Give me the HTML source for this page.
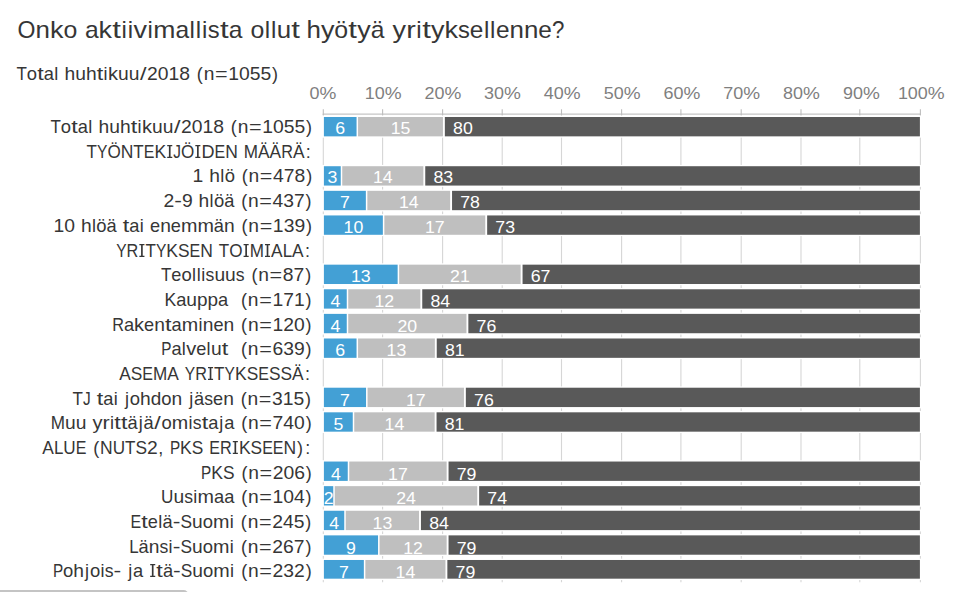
<!DOCTYPE html><html><head><meta charset="utf-8"><style>
html,body{margin:0;padding:0;background:#fff;overflow:hidden;width:958px;height:592px}
svg{display:block}text{font-family:"Liberation Sans", sans-serif;white-space:pre}
</style></head><body>
<svg width="958" height="592" viewBox="0 0 958 592">
<line x1="323.30" y1="114" x2="323.30" y2="582.3" stroke="#d6d6d6" stroke-width="1.1"/>
<line x1="382.60" y1="114" x2="382.60" y2="582.3" stroke="#d6d6d6" stroke-width="1.1"/>
<line x1="442.60" y1="114" x2="442.60" y2="582.3" stroke="#d6d6d6" stroke-width="1.1"/>
<line x1="502.20" y1="114" x2="502.20" y2="582.3" stroke="#d6d6d6" stroke-width="1.1"/>
<line x1="561.50" y1="114" x2="561.50" y2="582.3" stroke="#d6d6d6" stroke-width="1.1"/>
<line x1="621.60" y1="114" x2="621.60" y2="582.3" stroke="#d6d6d6" stroke-width="1.1"/>
<line x1="680.90" y1="114" x2="680.90" y2="582.3" stroke="#d6d6d6" stroke-width="1.1"/>
<line x1="741.20" y1="114" x2="741.20" y2="582.3" stroke="#d6d6d6" stroke-width="1.1"/>
<line x1="801.00" y1="114" x2="801.00" y2="582.3" stroke="#d6d6d6" stroke-width="1.1"/>
<line x1="859.80" y1="114" x2="859.80" y2="582.3" stroke="#d6d6d6" stroke-width="1.1"/>
<line x1="920.40" y1="114" x2="920.40" y2="582.3" stroke="#d6d6d6" stroke-width="1.1"/>
<line x1="322.80" y1="114.2" x2="920.90" y2="114.2" stroke="#c6c6c6" stroke-width="1.3"/>
<line x1="323.30" y1="109.3" x2="323.30" y2="115" stroke="#bdbdbd" stroke-width="1.1"/>
<line x1="382.60" y1="109.3" x2="382.60" y2="115" stroke="#bdbdbd" stroke-width="1.1"/>
<line x1="442.60" y1="109.3" x2="442.60" y2="115" stroke="#bdbdbd" stroke-width="1.1"/>
<line x1="502.20" y1="109.3" x2="502.20" y2="115" stroke="#bdbdbd" stroke-width="1.1"/>
<line x1="561.50" y1="109.3" x2="561.50" y2="115" stroke="#bdbdbd" stroke-width="1.1"/>
<line x1="621.60" y1="109.3" x2="621.60" y2="115" stroke="#bdbdbd" stroke-width="1.1"/>
<line x1="680.90" y1="109.3" x2="680.90" y2="115" stroke="#bdbdbd" stroke-width="1.1"/>
<line x1="741.20" y1="109.3" x2="741.20" y2="115" stroke="#bdbdbd" stroke-width="1.1"/>
<line x1="801.00" y1="109.3" x2="801.00" y2="115" stroke="#bdbdbd" stroke-width="1.1"/>
<line x1="859.80" y1="109.3" x2="859.80" y2="115" stroke="#bdbdbd" stroke-width="1.1"/>
<line x1="920.40" y1="109.3" x2="920.40" y2="115" stroke="#bdbdbd" stroke-width="1.1"/>
<g font-size="24" fill="#363636">
<text transform="matrix(0.960,0,0,1,17.57,38.00)">O</text>
<text transform="matrix(1.080,0,0,1,35.50,38.00)">n</text>
<text transform="matrix(1.124,0,0,1,49.92,38.00)">k</text>
<text transform="matrix(1.036,0,0,1,63.40,38.00)">o</text>
<text transform="matrix(1.026,0,0,1,84.91,38.00)">a</text>
<text transform="matrix(1.124,0,0,1,98.60,38.00)">k</text>
<text transform="matrix(1.300,0,0,1,112.24,38.00)">t</text>
<text x="121.52" y="38.00">i</text>
<text x="127.76" y="38.00">i</text>
<text transform="matrix(1.124,0,0,1,133.55,38.00)">v</text>
<text x="147.49" y="38.00">i</text>
<text transform="matrix(1.109,0,0,1,153.27,38.00)">m</text>
<text transform="matrix(1.026,0,0,1,175.44,38.00)">a</text>
<text x="189.58" y="38.00">l</text>
<text x="195.83" y="38.00">l</text>
<text x="202.07" y="38.00">i</text>
<text transform="matrix(0.989,0,0,1,207.85,38.00)">s</text>
<text transform="matrix(1.300,0,0,1,219.88,38.00)">t</text>
<text transform="matrix(1.026,0,0,1,228.70,38.00)">a</text>
<text transform="matrix(1.036,0,0,1,250.45,38.00)">o</text>
<text x="264.73" y="38.00">l</text>
<text x="270.97" y="38.00">l</text>
<text transform="matrix(1.080,0,0,1,276.76,38.00)">u</text>
<text transform="matrix(1.300,0,0,1,291.33,38.00)">t</text>
<text transform="matrix(1.080,0,0,1,306.46,38.00)">h</text>
<text transform="matrix(1.124,0,0,1,320.88,38.00)">y</text>
<text transform="matrix(1.036,0,0,1,334.36,38.00)">ö</text>
<text transform="matrix(1.300,0,0,1,348.34,38.00)">t</text>
<text transform="matrix(1.124,0,0,1,357.17,38.00)">y</text>
<text transform="matrix(1.026,0,0,1,370.65,38.00)">ä</text>
<text transform="matrix(1.124,0,0,1,392.58,38.00)">y</text>
<text transform="matrix(1.200,0,0,1,406.13,38.00)">r</text>
<text x="416.25" y="38.00">i</text>
<text transform="matrix(1.300,0,0,1,422.19,38.00)">t</text>
<text transform="matrix(1.124,0,0,1,431.01,38.00)">y</text>
<text transform="matrix(1.124,0,0,1,444.50,38.00)">k</text>
<text transform="matrix(0.989,0,0,1,457.98,38.00)">s</text>
<text transform="matrix(1.017,0,0,1,469.85,38.00)">e</text>
<text x="483.88" y="38.00">l</text>
<text x="490.12" y="38.00">l</text>
<text transform="matrix(1.017,0,0,1,495.91,38.00)">e</text>
<text transform="matrix(1.080,0,0,1,509.49,38.00)">n</text>
<text transform="matrix(1.080,0,0,1,523.91,38.00)">n</text>
<text transform="matrix(1.017,0,0,1,538.33,38.00)">e</text>
<text transform="matrix(0.930,0,0,1,551.90,38.00)">?</text>
</g>
<g font-size="18" fill="#363636">
<text transform="matrix(0.947,0,0,1,16.41,80.00)">T</text>
<text transform="matrix(1.025,0,0,1,26.83,80.00)">o</text>
<text transform="matrix(1.300,0,0,1,37.17,80.00)">t</text>
<text transform="matrix(1.015,0,0,1,43.75,80.00)">a</text>
<text x="54.23" y="80.00">l</text>
<text transform="matrix(1.069,0,0,1,64.50,80.00)">h</text>
<text transform="matrix(1.069,0,0,1,75.21,80.00)">u</text>
<text transform="matrix(1.069,0,0,1,85.91,80.00)">h</text>
<text transform="matrix(1.300,0,0,1,96.70,80.00)">t</text>
<text x="103.60" y="80.00">i</text>
<text transform="matrix(1.112,0,0,1,107.91,80.00)">k</text>
<text transform="matrix(1.069,0,0,1,117.92,80.00)">u</text>
<text transform="matrix(1.069,0,0,1,128.63,80.00)">u</text>
<text transform="matrix(1.300,0,0,1,139.92,80.00)">/</text>
<text transform="matrix(1.074,0,0,1,147.01,80.00)">2</text>
<text transform="matrix(1.074,0,0,1,157.76,80.00)">0</text>
<text transform="matrix(1.074,0,0,1,168.52,80.00)">1</text>
<text transform="matrix(1.074,0,0,1,179.27,80.00)">8</text>
<text x="196.82" y="80.00">(</text>
<text transform="matrix(1.069,0,0,1,203.66,80.00)">n</text>
<text transform="matrix(1.200,0,0,1,214.97,80.00)">=</text>
<text transform="matrix(1.074,0,0,1,228.19,80.00)">1</text>
<text transform="matrix(1.074,0,0,1,238.95,80.00)">0</text>
<text transform="matrix(1.074,0,0,1,249.70,80.00)">5</text>
<text transform="matrix(1.074,0,0,1,260.46,80.00)">5</text>
<text x="272.05" y="80.00">)</text>
<text transform="matrix(0.947,0,0,1,50.41,133.00)">T</text>
<text transform="matrix(1.025,0,0,1,60.83,133.00)">o</text>
<text transform="matrix(1.300,0,0,1,71.17,133.00)">t</text>
<text transform="matrix(1.015,0,0,1,77.75,133.00)">a</text>
<text x="88.23" y="133.00">l</text>
<text transform="matrix(1.069,0,0,1,98.50,133.00)">h</text>
<text transform="matrix(1.069,0,0,1,109.21,133.00)">u</text>
<text transform="matrix(1.069,0,0,1,119.91,133.00)">h</text>
<text transform="matrix(1.300,0,0,1,130.70,133.00)">t</text>
<text x="137.60" y="133.00">i</text>
<text transform="matrix(1.112,0,0,1,141.91,133.00)">k</text>
<text transform="matrix(1.069,0,0,1,151.92,133.00)">u</text>
<text transform="matrix(1.069,0,0,1,162.63,133.00)">u</text>
<text transform="matrix(1.300,0,0,1,173.92,133.00)">/</text>
<text transform="matrix(1.074,0,0,1,181.01,133.00)">2</text>
<text transform="matrix(1.074,0,0,1,191.76,133.00)">0</text>
<text transform="matrix(1.074,0,0,1,202.52,133.00)">1</text>
<text transform="matrix(1.074,0,0,1,213.27,133.00)">8</text>
<text x="230.82" y="133.00">(</text>
<text transform="matrix(1.069,0,0,1,237.66,133.00)">n</text>
<text transform="matrix(1.200,0,0,1,248.97,133.00)">=</text>
<text transform="matrix(1.074,0,0,1,262.19,133.00)">1</text>
<text transform="matrix(1.074,0,0,1,272.95,133.00)">0</text>
<text transform="matrix(1.074,0,0,1,283.70,133.00)">5</text>
<text transform="matrix(1.074,0,0,1,294.46,133.00)">5</text>
<text x="306.05" y="133.00">)</text>
<text transform="matrix(0.947,0,0,1,86.58,158.00)">T</text>
<text transform="matrix(0.866,0,0,1,96.99,158.00)">Y</text>
<text transform="matrix(0.951,0,0,1,107.39,158.00)">Ö</text>
<text transform="matrix(0.973,0,0,1,120.70,158.00)">N</text>
<text transform="matrix(0.947,0,0,1,133.35,158.00)">T</text>
<text transform="matrix(0.890,0,0,1,143.77,158.00)">E</text>
<text transform="matrix(0.976,0,0,1,154.45,158.00)">K</text>
<path d="M168.90,145.00h1.67v13.00h-1.67zM167.20,145.00h5.07v1.27h-5.07zM167.20,156.73h5.07v1.27h-5.07z"/>
<text transform="matrix(0.855,0,0,1,173.29,158.00)">J</text>
<text transform="matrix(0.951,0,0,1,180.99,158.00)">Ö</text>
<path d="M197.02,145.00h1.67v13.00h-1.67zM195.32,145.00h5.07v1.27h-5.07zM195.32,156.73h5.07v1.27h-5.07z"/>
<text transform="matrix(1.003,0,0,1,201.41,158.00)">D</text>
<text transform="matrix(0.890,0,0,1,214.45,158.00)">E</text>
<text transform="matrix(0.973,0,0,1,225.14,158.00)">N</text>
<text transform="matrix(0.951,0,0,1,243.74,158.00)">M</text>
<text transform="matrix(0.963,0,0,1,257.99,158.00)">Ä</text>
<text transform="matrix(0.963,0,0,1,269.56,158.00)">Ä</text>
<text transform="matrix(0.904,0,0,1,281.13,158.00)">R</text>
<text transform="matrix(0.963,0,0,1,292.88,158.00)">Ä</text>
<text x="305.78" y="158.00">:</text>
<text transform="matrix(1.074,0,0,1,192.59,182.00)">1</text>
<text transform="matrix(1.069,0,0,1,209.30,182.00)">h</text>
<text x="220.32" y="182.00">l</text>
<text transform="matrix(1.025,0,0,1,224.64,182.00)">ö</text>
<text x="241.69" y="182.00">(</text>
<text transform="matrix(1.069,0,0,1,248.53,182.00)">n</text>
<text transform="matrix(1.200,0,0,1,259.84,182.00)">=</text>
<text transform="matrix(1.074,0,0,1,273.07,182.00)">4</text>
<text transform="matrix(1.074,0,0,1,283.82,182.00)">7</text>
<text transform="matrix(1.074,0,0,1,294.58,182.00)">8</text>
<text x="306.17" y="182.00">)</text>
<text transform="matrix(1.074,0,0,1,163.44,207.00)">2</text>
<text transform="matrix(1.281,0,0,1,174.20,207.00)">-</text>
<text transform="matrix(1.074,0,0,1,181.88,207.00)">9</text>
<text transform="matrix(1.069,0,0,1,198.58,207.00)">h</text>
<text x="209.60" y="207.00">l</text>
<text transform="matrix(1.025,0,0,1,213.92,207.00)">ö</text>
<text transform="matrix(1.015,0,0,1,224.19,207.00)">ä</text>
<text x="241.14" y="207.00">(</text>
<text transform="matrix(1.069,0,0,1,247.98,207.00)">n</text>
<text transform="matrix(1.200,0,0,1,259.29,207.00)">=</text>
<text transform="matrix(1.074,0,0,1,272.51,207.00)">4</text>
<text transform="matrix(1.074,0,0,1,283.27,207.00)">3</text>
<text transform="matrix(1.074,0,0,1,294.02,207.00)">7</text>
<text x="305.62" y="207.00">)</text>
<text transform="matrix(1.074,0,0,1,53.48,232.00)">1</text>
<text transform="matrix(1.074,0,0,1,64.24,232.00)">0</text>
<text transform="matrix(1.069,0,0,1,80.95,232.00)">h</text>
<text x="91.97" y="232.00">l</text>
<text transform="matrix(1.025,0,0,1,96.28,232.00)">ö</text>
<text transform="matrix(1.015,0,0,1,106.55,232.00)">ä</text>
<text transform="matrix(1.300,0,0,1,122.74,232.00)">t</text>
<text transform="matrix(1.015,0,0,1,129.33,232.00)">a</text>
<text x="139.81" y="232.00">i</text>
<text transform="matrix(1.007,0,0,1,150.07,232.00)">e</text>
<text transform="matrix(1.069,0,0,1,160.15,232.00)">n</text>
<text transform="matrix(1.007,0,0,1,170.86,232.00)">e</text>
<text transform="matrix(1.097,0,0,1,180.93,232.00)">m</text>
<text transform="matrix(1.097,0,0,1,197.39,232.00)">m</text>
<text transform="matrix(1.015,0,0,1,213.84,232.00)">ä</text>
<text transform="matrix(1.069,0,0,1,224.00,232.00)">n</text>
<text x="241.50" y="232.00">(</text>
<text transform="matrix(1.069,0,0,1,248.34,232.00)">n</text>
<text transform="matrix(1.200,0,0,1,259.65,232.00)">=</text>
<text transform="matrix(1.074,0,0,1,272.87,232.00)">1</text>
<text transform="matrix(1.074,0,0,1,283.63,232.00)">3</text>
<text transform="matrix(1.074,0,0,1,294.38,232.00)">9</text>
<text x="305.98" y="232.00">)</text>
<text transform="matrix(0.866,0,0,1,116.20,257.00)">Y</text>
<text transform="matrix(0.904,0,0,1,126.60,257.00)">R</text>
<path d="M141.07,244.00h1.67v13.00h-1.67zM139.37,244.00h5.07v1.27h-5.07zM139.37,255.73h5.07v1.27h-5.07z"/>
<text transform="matrix(0.947,0,0,1,145.47,257.00)">T</text>
<text transform="matrix(0.866,0,0,1,155.88,257.00)">Y</text>
<text transform="matrix(0.976,0,0,1,166.28,257.00)">K</text>
<text transform="matrix(0.963,0,0,1,178.00,257.00)">S</text>
<text transform="matrix(0.890,0,0,1,189.57,257.00)">E</text>
<text transform="matrix(0.973,0,0,1,200.26,257.00)">N</text>
<text transform="matrix(0.947,0,0,1,218.86,257.00)">T</text>
<text transform="matrix(0.951,0,0,1,229.27,257.00)">O</text>
<path d="M245.30,244.00h1.67v13.00h-1.67zM243.60,244.00h5.07v1.27h-5.07zM243.60,255.73h5.07v1.27h-5.07z"/>
<text transform="matrix(0.951,0,0,1,249.70,257.00)">M</text>
<path d="M266.68,244.00h1.67v13.00h-1.67zM264.98,244.00h5.07v1.27h-5.07zM264.98,255.73h5.07v1.27h-5.07z"/>
<text transform="matrix(0.963,0,0,1,271.07,257.00)">A</text>
<text transform="matrix(0.941,0,0,1,282.64,257.00)">L</text>
<text transform="matrix(0.963,0,0,1,292.06,257.00)">A</text>
<text x="304.96" y="257.00">:</text>
<text transform="matrix(0.947,0,0,1,160.93,281.00)">T</text>
<text transform="matrix(1.007,0,0,1,171.35,281.00)">e</text>
<text transform="matrix(1.025,0,0,1,181.42,281.00)">o</text>
<text x="192.01" y="281.00">l</text>
<text x="196.64" y="281.00">l</text>
<text x="201.27" y="281.00">i</text>
<text transform="matrix(0.979,0,0,1,205.59,281.00)">s</text>
<text transform="matrix(1.069,0,0,1,214.40,281.00)">u</text>
<text transform="matrix(1.069,0,0,1,225.10,281.00)">u</text>
<text transform="matrix(0.979,0,0,1,235.81,281.00)">s</text>
<text x="251.41" y="281.00">(</text>
<text transform="matrix(1.069,0,0,1,258.25,281.00)">n</text>
<text transform="matrix(1.200,0,0,1,269.56,281.00)">=</text>
<text transform="matrix(1.074,0,0,1,282.78,281.00)">8</text>
<text transform="matrix(1.074,0,0,1,293.54,281.00)">7</text>
<text x="305.13" y="281.00">)</text>
<text transform="matrix(0.976,0,0,1,164.46,306.00)">K</text>
<text transform="matrix(1.015,0,0,1,176.18,306.00)">a</text>
<text transform="matrix(1.069,0,0,1,186.34,306.00)">u</text>
<text transform="matrix(1.052,0,0,1,197.05,306.00)">p</text>
<text transform="matrix(1.052,0,0,1,207.58,306.00)">p</text>
<text transform="matrix(1.015,0,0,1,218.12,306.00)">a</text>
<text x="241.03" y="306.00">(</text>
<text transform="matrix(1.069,0,0,1,247.86,306.00)">n</text>
<text transform="matrix(1.200,0,0,1,259.17,306.00)">=</text>
<text transform="matrix(1.074,0,0,1,272.40,306.00)">1</text>
<text transform="matrix(1.074,0,0,1,283.15,306.00)">7</text>
<text transform="matrix(1.074,0,0,1,293.91,306.00)">1</text>
<text x="305.50" y="306.00">)</text>
<text transform="matrix(0.904,0,0,1,112.14,331.00)">R</text>
<text transform="matrix(1.015,0,0,1,123.90,331.00)">a</text>
<text transform="matrix(1.112,0,0,1,134.06,331.00)">k</text>
<text transform="matrix(1.007,0,0,1,144.07,331.00)">e</text>
<text transform="matrix(1.069,0,0,1,154.15,331.00)">n</text>
<text transform="matrix(1.300,0,0,1,164.93,331.00)">t</text>
<text transform="matrix(1.015,0,0,1,171.51,331.00)">a</text>
<text transform="matrix(1.097,0,0,1,181.68,331.00)">m</text>
<text x="198.45" y="331.00">i</text>
<text transform="matrix(1.069,0,0,1,202.76,331.00)">n</text>
<text transform="matrix(1.007,0,0,1,213.47,331.00)">e</text>
<text transform="matrix(1.069,0,0,1,223.55,331.00)">n</text>
<text x="241.04" y="331.00">(</text>
<text transform="matrix(1.069,0,0,1,247.88,331.00)">n</text>
<text transform="matrix(1.200,0,0,1,259.19,331.00)">=</text>
<text transform="matrix(1.074,0,0,1,272.42,331.00)">1</text>
<text transform="matrix(1.074,0,0,1,283.17,331.00)">2</text>
<text transform="matrix(1.074,0,0,1,293.93,331.00)">0</text>
<text x="305.52" y="331.00">)</text>
<text transform="matrix(0.850,0,0,1,161.18,355.00)">P</text>
<text transform="matrix(1.015,0,0,1,171.38,355.00)">a</text>
<text x="181.86" y="355.00">l</text>
<text transform="matrix(1.112,0,0,1,186.17,355.00)">v</text>
<text transform="matrix(1.007,0,0,1,196.18,355.00)">e</text>
<text x="206.58" y="355.00">l</text>
<text transform="matrix(1.069,0,0,1,210.89,355.00)">u</text>
<text transform="matrix(1.300,0,0,1,221.68,355.00)">t</text>
<text x="241.01" y="355.00">(</text>
<text transform="matrix(1.069,0,0,1,247.84,355.00)">n</text>
<text transform="matrix(1.200,0,0,1,259.16,355.00)">=</text>
<text transform="matrix(1.074,0,0,1,272.38,355.00)">6</text>
<text transform="matrix(1.074,0,0,1,283.13,355.00)">3</text>
<text transform="matrix(1.074,0,0,1,293.89,355.00)">9</text>
<text x="305.49" y="355.00">)</text>
<text transform="matrix(0.963,0,0,1,119.24,380.00)">A</text>
<text transform="matrix(0.963,0,0,1,130.80,380.00)">S</text>
<text transform="matrix(0.890,0,0,1,142.37,380.00)">E</text>
<text transform="matrix(0.951,0,0,1,153.06,380.00)">M</text>
<text transform="matrix(0.963,0,0,1,167.31,380.00)">A</text>
<text transform="matrix(0.866,0,0,1,184.83,380.00)">Y</text>
<text transform="matrix(0.904,0,0,1,195.23,380.00)">R</text>
<path d="M209.70,367.00h1.67v13.00h-1.67zM208.00,367.00h5.07v1.27h-5.07zM208.00,378.73h5.07v1.27h-5.07z"/>
<text transform="matrix(0.947,0,0,1,214.10,380.00)">T</text>
<text transform="matrix(0.866,0,0,1,224.52,380.00)">Y</text>
<text transform="matrix(0.976,0,0,1,234.92,380.00)">K</text>
<text transform="matrix(0.963,0,0,1,246.63,380.00)">S</text>
<text transform="matrix(0.890,0,0,1,258.20,380.00)">E</text>
<text transform="matrix(0.963,0,0,1,268.89,380.00)">S</text>
<text transform="matrix(0.963,0,0,1,280.45,380.00)">S</text>
<text transform="matrix(0.963,0,0,1,292.02,380.00)">Ä</text>
<text x="304.93" y="380.00">:</text>
<text transform="matrix(0.947,0,0,1,72.55,405.00)">T</text>
<text transform="matrix(0.855,0,0,1,82.97,405.00)">J</text>
<text transform="matrix(1.300,0,0,1,96.70,405.00)">t</text>
<text transform="matrix(1.015,0,0,1,103.28,405.00)">a</text>
<text x="113.76" y="405.00">i</text>
<text x="124.94" y="405.00">j</text>
<text transform="matrix(1.025,0,0,1,129.84,405.00)">o</text>
<text transform="matrix(1.069,0,0,1,140.11,405.00)">h</text>
<text transform="matrix(1.052,0,0,1,150.81,405.00)">d</text>
<text transform="matrix(1.025,0,0,1,161.35,405.00)">o</text>
<text transform="matrix(1.069,0,0,1,171.61,405.00)">n</text>
<text x="189.18" y="405.00">j</text>
<text transform="matrix(1.015,0,0,1,194.08,405.00)">ä</text>
<text transform="matrix(0.979,0,0,1,204.25,405.00)">s</text>
<text transform="matrix(1.007,0,0,1,213.06,405.00)">e</text>
<text transform="matrix(1.069,0,0,1,223.14,405.00)">n</text>
<text x="240.63" y="405.00">(</text>
<text transform="matrix(1.069,0,0,1,247.47,405.00)">n</text>
<text transform="matrix(1.200,0,0,1,258.78,405.00)">=</text>
<text transform="matrix(1.074,0,0,1,272.01,405.00)">3</text>
<text transform="matrix(1.074,0,0,1,282.76,405.00)">1</text>
<text transform="matrix(1.074,0,0,1,293.52,405.00)">5</text>
<text x="305.11" y="405.00">)</text>
<text transform="matrix(0.951,0,0,1,50.80,429.00)">M</text>
<text transform="matrix(1.069,0,0,1,65.06,429.00)">u</text>
<text transform="matrix(1.069,0,0,1,75.76,429.00)">u</text>
<text transform="matrix(1.112,0,0,1,92.42,429.00)">y</text>
<text transform="matrix(1.200,0,0,1,102.44,429.00)">r</text>
<text x="109.96" y="429.00">i</text>
<text transform="matrix(1.300,0,0,1,114.36,429.00)">t</text>
<text transform="matrix(1.300,0,0,1,121.02,429.00)">t</text>
<text transform="matrix(1.015,0,0,1,127.61,429.00)">ä</text>
<text x="138.68" y="429.00">j</text>
<text transform="matrix(1.015,0,0,1,143.59,429.00)">ä</text>
<text transform="matrix(1.300,0,0,1,154.34,429.00)">/</text>
<text transform="matrix(1.025,0,0,1,161.43,429.00)">o</text>
<text transform="matrix(1.097,0,0,1,171.69,429.00)">m</text>
<text x="188.46" y="429.00">i</text>
<text transform="matrix(0.979,0,0,1,192.78,429.00)">s</text>
<text transform="matrix(1.300,0,0,1,201.67,429.00)">t</text>
<text transform="matrix(1.015,0,0,1,208.25,429.00)">a</text>
<text x="219.32" y="429.00">j</text>
<text transform="matrix(1.015,0,0,1,224.23,429.00)">a</text>
<text x="241.19" y="429.00">(</text>
<text transform="matrix(1.069,0,0,1,248.02,429.00)">n</text>
<text transform="matrix(1.200,0,0,1,259.33,429.00)">=</text>
<text transform="matrix(1.074,0,0,1,272.56,429.00)">7</text>
<text transform="matrix(1.074,0,0,1,283.31,429.00)">4</text>
<text transform="matrix(1.074,0,0,1,294.07,429.00)">0</text>
<text x="305.66" y="429.00">)</text>
<text transform="matrix(0.963,0,0,1,42.35,454.00)">A</text>
<text transform="matrix(0.941,0,0,1,53.91,454.00)">L</text>
<text transform="matrix(0.952,0,0,1,63.33,454.00)">U</text>
<text transform="matrix(0.890,0,0,1,75.71,454.00)">E</text>
<text x="93.19" y="454.00">(</text>
<text transform="matrix(0.973,0,0,1,100.03,454.00)">N</text>
<text transform="matrix(0.952,0,0,1,112.68,454.00)">U</text>
<text transform="matrix(0.947,0,0,1,125.05,454.00)">T</text>
<text transform="matrix(0.963,0,0,1,135.47,454.00)">S</text>
<text transform="matrix(1.074,0,0,1,147.04,454.00)">2</text>
<text x="158.37" y="454.00">,</text>
<text transform="matrix(0.850,0,0,1,169.89,454.00)">P</text>
<text transform="matrix(0.976,0,0,1,180.10,454.00)">K</text>
<text transform="matrix(0.963,0,0,1,191.81,454.00)">S</text>
<text transform="matrix(0.890,0,0,1,209.33,454.00)">E</text>
<text transform="matrix(0.904,0,0,1,220.02,454.00)">R</text>
<path d="M234.49,441.00h1.67v13.00h-1.67zM232.80,441.00h5.07v1.27h-5.07zM232.80,452.73h5.07v1.27h-5.07z"/>
<text transform="matrix(0.976,0,0,1,238.89,454.00)">K</text>
<text transform="matrix(0.963,0,0,1,250.61,454.00)">S</text>
<text transform="matrix(0.890,0,0,1,262.18,454.00)">E</text>
<text transform="matrix(0.890,0,0,1,272.86,454.00)">E</text>
<text transform="matrix(0.973,0,0,1,283.55,454.00)">N</text>
<text x="297.04" y="454.00">)</text>
<text x="305.21" y="454.00">:</text>
<text transform="matrix(0.850,0,0,1,201.10,479.00)">P</text>
<text transform="matrix(0.976,0,0,1,211.30,479.00)">K</text>
<text transform="matrix(0.963,0,0,1,223.02,479.00)">S</text>
<text x="241.38" y="479.00">(</text>
<text transform="matrix(1.069,0,0,1,248.22,479.00)">n</text>
<text transform="matrix(1.200,0,0,1,259.53,479.00)">=</text>
<text transform="matrix(1.074,0,0,1,272.75,479.00)">2</text>
<text transform="matrix(1.074,0,0,1,283.51,479.00)">0</text>
<text transform="matrix(1.074,0,0,1,294.26,479.00)">6</text>
<text x="305.86" y="479.00">)</text>
<text transform="matrix(0.952,0,0,1,161.04,503.00)">U</text>
<text transform="matrix(1.069,0,0,1,173.42,503.00)">u</text>
<text transform="matrix(0.979,0,0,1,184.13,503.00)">s</text>
<text x="193.25" y="503.00">i</text>
<text transform="matrix(1.097,0,0,1,197.57,503.00)">m</text>
<text transform="matrix(1.015,0,0,1,214.02,503.00)">a</text>
<text transform="matrix(1.015,0,0,1,224.19,503.00)">a</text>
<text x="241.14" y="503.00">(</text>
<text transform="matrix(1.069,0,0,1,247.98,503.00)">n</text>
<text transform="matrix(1.200,0,0,1,259.29,503.00)">=</text>
<text transform="matrix(1.074,0,0,1,272.51,503.00)">1</text>
<text transform="matrix(1.074,0,0,1,283.27,503.00)">0</text>
<text transform="matrix(1.074,0,0,1,294.02,503.00)">4</text>
<text x="305.62" y="503.00">)</text>
<text transform="matrix(0.890,0,0,1,130.48,528.00)">E</text>
<text transform="matrix(1.300,0,0,1,141.25,528.00)">t</text>
<text transform="matrix(1.007,0,0,1,147.83,528.00)">e</text>
<text x="158.23" y="528.00">l</text>
<text transform="matrix(1.015,0,0,1,162.55,528.00)">ä</text>
<text transform="matrix(1.281,0,0,1,172.71,528.00)">-</text>
<text transform="matrix(0.963,0,0,1,180.39,528.00)">S</text>
<text transform="matrix(1.069,0,0,1,191.95,528.00)">u</text>
<text transform="matrix(1.025,0,0,1,202.66,528.00)">o</text>
<text transform="matrix(1.097,0,0,1,212.92,528.00)">m</text>
<text x="229.69" y="528.00">i</text>
<text x="240.80" y="528.00">(</text>
<text transform="matrix(1.069,0,0,1,247.64,528.00)">n</text>
<text transform="matrix(1.200,0,0,1,258.95,528.00)">=</text>
<text transform="matrix(1.074,0,0,1,272.17,528.00)">2</text>
<text transform="matrix(1.074,0,0,1,282.93,528.00)">4</text>
<text transform="matrix(1.074,0,0,1,293.68,528.00)">5</text>
<text x="305.28" y="528.00">)</text>
<text transform="matrix(0.941,0,0,1,129.13,553.00)">L</text>
<text transform="matrix(1.015,0,0,1,138.55,553.00)">ä</text>
<text transform="matrix(1.069,0,0,1,148.71,553.00)">n</text>
<text transform="matrix(0.979,0,0,1,159.42,553.00)">s</text>
<text x="168.55" y="553.00">i</text>
<text transform="matrix(1.281,0,0,1,172.86,553.00)">-</text>
<text transform="matrix(0.963,0,0,1,180.54,553.00)">S</text>
<text transform="matrix(1.069,0,0,1,192.11,553.00)">u</text>
<text transform="matrix(1.025,0,0,1,202.81,553.00)">o</text>
<text transform="matrix(1.097,0,0,1,213.07,553.00)">m</text>
<text x="229.84" y="553.00">i</text>
<text x="240.95" y="553.00">(</text>
<text transform="matrix(1.069,0,0,1,247.79,553.00)">n</text>
<text transform="matrix(1.200,0,0,1,259.10,553.00)">=</text>
<text transform="matrix(1.074,0,0,1,272.33,553.00)">2</text>
<text transform="matrix(1.074,0,0,1,283.08,553.00)">6</text>
<text transform="matrix(1.074,0,0,1,293.84,553.00)">7</text>
<text x="305.43" y="553.00">)</text>
<text transform="matrix(0.850,0,0,1,52.89,577.00)">P</text>
<text transform="matrix(1.025,0,0,1,63.10,577.00)">o</text>
<text transform="matrix(1.069,0,0,1,73.36,577.00)">h</text>
<text x="84.97" y="577.00">j</text>
<text transform="matrix(1.025,0,0,1,89.88,577.00)">o</text>
<text x="100.46" y="577.00">i</text>
<text transform="matrix(0.979,0,0,1,104.78,577.00)">s</text>
<text transform="matrix(1.281,0,0,1,113.59,577.00)">-</text>
<text x="128.13" y="577.00">j</text>
<text transform="matrix(1.015,0,0,1,133.04,577.00)">a</text>
<path d="M151.87,564.00h1.67v13.00h-1.67zM150.17,564.00h5.07v1.27h-5.07zM150.17,575.73h5.07v1.27h-5.07z"/>
<text transform="matrix(1.300,0,0,1,156.35,577.00)">t</text>
<text transform="matrix(1.015,0,0,1,162.93,577.00)">ä</text>
<text transform="matrix(1.281,0,0,1,173.10,577.00)">-</text>
<text transform="matrix(0.963,0,0,1,180.77,577.00)">S</text>
<text transform="matrix(1.069,0,0,1,192.34,577.00)">u</text>
<text transform="matrix(1.025,0,0,1,203.04,577.00)">o</text>
<text transform="matrix(1.097,0,0,1,213.31,577.00)">m</text>
<text x="230.08" y="577.00">i</text>
<text x="241.19" y="577.00">(</text>
<text transform="matrix(1.069,0,0,1,248.02,577.00)">n</text>
<text transform="matrix(1.200,0,0,1,259.34,577.00)">=</text>
<text transform="matrix(1.074,0,0,1,272.56,577.00)">2</text>
<text transform="matrix(1.074,0,0,1,283.31,577.00)">3</text>
<text transform="matrix(1.074,0,0,1,294.07,577.00)">2</text>
<text x="305.67" y="577.00">)</text>
</g>
<g font-size="16" fill="#7f7f7f">
<text transform="matrix(1.122,0,0,1,309.61,99.00)">0</text>
<text transform="matrix(1.187,0,0,1,319.60,99.00)">%</text>
<text transform="matrix(1.122,0,0,1,364.67,99.00)">1</text>
<text transform="matrix(1.122,0,0,1,374.65,99.00)">0</text>
<text transform="matrix(1.187,0,0,1,384.64,99.00)">%</text>
<text transform="matrix(1.122,0,0,1,424.42,99.00)">2</text>
<text transform="matrix(1.122,0,0,1,434.40,99.00)">0</text>
<text transform="matrix(1.187,0,0,1,444.39,99.00)">%</text>
<text transform="matrix(1.122,0,0,1,484.07,99.00)">3</text>
<text transform="matrix(1.122,0,0,1,494.05,99.00)">0</text>
<text transform="matrix(1.187,0,0,1,504.04,99.00)">%</text>
<text transform="matrix(1.122,0,0,1,543.77,99.00)">4</text>
<text transform="matrix(1.122,0,0,1,553.75,99.00)">0</text>
<text transform="matrix(1.187,0,0,1,563.74,99.00)">%</text>
<text transform="matrix(1.122,0,0,1,603.67,99.00)">5</text>
<text transform="matrix(1.122,0,0,1,613.65,99.00)">0</text>
<text transform="matrix(1.187,0,0,1,623.64,99.00)">%</text>
<text transform="matrix(1.122,0,0,1,663.57,99.00)">6</text>
<text transform="matrix(1.122,0,0,1,673.55,99.00)">0</text>
<text transform="matrix(1.187,0,0,1,683.54,99.00)">%</text>
<text transform="matrix(1.122,0,0,1,723.22,99.00)">7</text>
<text transform="matrix(1.122,0,0,1,733.20,99.00)">0</text>
<text transform="matrix(1.187,0,0,1,743.19,99.00)">%</text>
<text transform="matrix(1.122,0,0,1,782.92,99.00)">8</text>
<text transform="matrix(1.122,0,0,1,792.90,99.00)">0</text>
<text transform="matrix(1.187,0,0,1,802.89,99.00)">%</text>
<text transform="matrix(1.122,0,0,1,843.07,99.00)">9</text>
<text transform="matrix(1.122,0,0,1,853.05,99.00)">0</text>
<text transform="matrix(1.187,0,0,1,863.04,99.00)">%</text>
<text transform="matrix(1.122,0,0,1,897.88,99.00)">1</text>
<text transform="matrix(1.122,0,0,1,907.86,99.00)">0</text>
<text transform="matrix(1.122,0,0,1,917.85,99.00)">0</text>
<text transform="matrix(1.187,0,0,1,927.83,99.00)">%</text>
</g>
<rect x="321.90" y="115.70" width="600.00" height="21.95" fill="#fff"/>
<rect x="323.90" y="117.00" width="32.65" height="19.35" fill="#43a0d5"/>
<rect x="358.05" y="117.00" width="84.90" height="19.35" fill="#bfbfbf"/>
<rect x="444.85" y="117.00" width="475.05" height="19.35" fill="#595959"/>
<rect x="321.90" y="164.92" width="600.00" height="21.95" fill="#fff"/>
<rect x="323.90" y="166.22" width="16.85" height="19.35" fill="#43a0d5"/>
<rect x="342.25" y="166.22" width="81.10" height="19.35" fill="#bfbfbf"/>
<rect x="425.25" y="166.22" width="494.65" height="19.35" fill="#595959"/>
<rect x="321.90" y="189.53" width="600.00" height="21.95" fill="#fff"/>
<rect x="323.90" y="190.83" width="41.95" height="19.35" fill="#43a0d5"/>
<rect x="367.35" y="190.83" width="82.80" height="19.35" fill="#bfbfbf"/>
<rect x="452.05" y="190.83" width="467.85" height="19.35" fill="#595959"/>
<rect x="321.90" y="214.14" width="600.00" height="21.95" fill="#fff"/>
<rect x="323.90" y="215.44" width="58.95" height="19.35" fill="#43a0d5"/>
<rect x="384.35" y="215.44" width="100.90" height="19.35" fill="#bfbfbf"/>
<rect x="487.15" y="215.44" width="432.75" height="19.35" fill="#595959"/>
<rect x="321.90" y="263.36" width="600.00" height="21.95" fill="#fff"/>
<rect x="323.90" y="264.66" width="73.75" height="19.35" fill="#43a0d5"/>
<rect x="399.15" y="264.66" width="121.50" height="19.35" fill="#bfbfbf"/>
<rect x="522.55" y="264.66" width="397.35" height="19.35" fill="#595959"/>
<rect x="321.90" y="287.97" width="600.00" height="21.95" fill="#fff"/>
<rect x="323.90" y="289.27" width="22.85" height="19.35" fill="#43a0d5"/>
<rect x="348.25" y="289.27" width="72.10" height="19.35" fill="#bfbfbf"/>
<rect x="422.25" y="289.27" width="497.65" height="19.35" fill="#595959"/>
<rect x="321.90" y="312.58" width="600.00" height="21.95" fill="#fff"/>
<rect x="323.90" y="313.88" width="22.85" height="19.35" fill="#43a0d5"/>
<rect x="348.25" y="313.88" width="118.20" height="19.35" fill="#bfbfbf"/>
<rect x="468.35" y="313.88" width="451.55" height="19.35" fill="#595959"/>
<rect x="321.90" y="337.19" width="600.00" height="21.95" fill="#fff"/>
<rect x="323.90" y="338.49" width="32.65" height="19.35" fill="#43a0d5"/>
<rect x="358.05" y="338.49" width="76.80" height="19.35" fill="#bfbfbf"/>
<rect x="436.75" y="338.49" width="483.15" height="19.35" fill="#595959"/>
<rect x="321.90" y="386.41" width="600.00" height="21.95" fill="#fff"/>
<rect x="323.90" y="387.71" width="42.15" height="19.35" fill="#43a0d5"/>
<rect x="367.55" y="387.71" width="96.40" height="19.35" fill="#bfbfbf"/>
<rect x="465.85" y="387.71" width="454.05" height="19.35" fill="#595959"/>
<rect x="321.90" y="411.02" width="600.00" height="21.95" fill="#fff"/>
<rect x="323.90" y="412.32" width="28.85" height="19.35" fill="#43a0d5"/>
<rect x="354.25" y="412.32" width="80.40" height="19.35" fill="#bfbfbf"/>
<rect x="436.55" y="412.32" width="483.35" height="19.35" fill="#595959"/>
<rect x="321.90" y="460.24" width="600.00" height="21.95" fill="#fff"/>
<rect x="323.90" y="461.54" width="23.85" height="19.35" fill="#43a0d5"/>
<rect x="349.25" y="461.54" width="97.40" height="19.35" fill="#bfbfbf"/>
<rect x="448.55" y="461.54" width="471.35" height="19.35" fill="#595959"/>
<rect x="321.90" y="484.85" width="600.00" height="21.95" fill="#fff"/>
<rect x="323.90" y="486.15" width="9.35" height="19.35" fill="#43a0d5"/>
<rect x="334.75" y="486.15" width="142.50" height="19.35" fill="#bfbfbf"/>
<rect x="479.15" y="486.15" width="440.75" height="19.35" fill="#595959"/>
<rect x="321.90" y="509.46" width="600.00" height="21.95" fill="#fff"/>
<rect x="323.90" y="510.76" width="20.35" height="19.35" fill="#43a0d5"/>
<rect x="345.75" y="510.76" width="73.30" height="19.35" fill="#bfbfbf"/>
<rect x="420.95" y="510.76" width="498.95" height="19.35" fill="#595959"/>
<rect x="321.90" y="534.07" width="600.00" height="21.95" fill="#fff"/>
<rect x="323.90" y="535.37" width="54.15" height="19.35" fill="#43a0d5"/>
<rect x="379.55" y="535.37" width="67.10" height="19.35" fill="#bfbfbf"/>
<rect x="448.55" y="535.37" width="471.35" height="19.35" fill="#595959"/>
<rect x="321.90" y="558.68" width="600.00" height="21.30" fill="#fff"/>
<rect x="323.90" y="559.98" width="39.95" height="18.70" fill="#43a0d5"/>
<rect x="365.35" y="559.98" width="80.10" height="18.70" fill="#bfbfbf"/>
<rect x="447.35" y="559.98" width="472.55" height="18.70" fill="#595959"/>
<g font-size="15.6" fill="#fff">
<text transform="matrix(1.136,0,0,1,335.30,134.00)">6</text>
<text transform="matrix(1.136,0,0,1,390.64,134.00)">1</text>
<text transform="matrix(1.136,0,0,1,400.50,134.00)">5</text>
<text transform="matrix(1.136,0,0,1,453.05,134.00)">8</text>
<text transform="matrix(1.136,0,0,1,462.91,134.00)">0</text>
<text transform="matrix(1.136,0,0,1,327.40,183.00)">3</text>
<text transform="matrix(1.136,0,0,1,372.94,183.00)">1</text>
<text transform="matrix(1.136,0,0,1,382.80,183.00)">4</text>
<text transform="matrix(1.136,0,0,1,433.45,183.00)">8</text>
<text transform="matrix(1.136,0,0,1,443.31,183.00)">3</text>
<text transform="matrix(1.136,0,0,1,339.95,208.00)">7</text>
<text transform="matrix(1.136,0,0,1,398.89,208.00)">1</text>
<text transform="matrix(1.136,0,0,1,408.75,208.00)">4</text>
<text transform="matrix(1.136,0,0,1,460.25,208.00)">7</text>
<text transform="matrix(1.136,0,0,1,470.11,208.00)">8</text>
<text transform="matrix(1.136,0,0,1,343.52,233.00)">1</text>
<text transform="matrix(1.136,0,0,1,353.38,233.00)">0</text>
<text transform="matrix(1.136,0,0,1,424.94,233.00)">1</text>
<text transform="matrix(1.136,0,0,1,434.80,233.00)">7</text>
<text transform="matrix(1.136,0,0,1,495.35,233.00)">7</text>
<text transform="matrix(1.136,0,0,1,505.21,233.00)">3</text>
<text transform="matrix(1.136,0,0,1,350.92,282.00)">1</text>
<text transform="matrix(1.136,0,0,1,360.77,282.00)">3</text>
<text transform="matrix(1.136,0,0,1,450.04,282.00)">2</text>
<text transform="matrix(1.136,0,0,1,459.90,282.00)">1</text>
<text transform="matrix(1.136,0,0,1,530.75,282.00)">6</text>
<text transform="matrix(1.136,0,0,1,540.61,282.00)">7</text>
<text transform="matrix(1.136,0,0,1,330.40,307.00)">4</text>
<text transform="matrix(1.136,0,0,1,374.44,307.00)">1</text>
<text transform="matrix(1.136,0,0,1,384.30,307.00)">2</text>
<text transform="matrix(1.136,0,0,1,430.45,307.00)">8</text>
<text transform="matrix(1.136,0,0,1,440.31,307.00)">4</text>
<text transform="matrix(1.136,0,0,1,330.40,332.00)">4</text>
<text transform="matrix(1.136,0,0,1,397.49,332.00)">2</text>
<text transform="matrix(1.136,0,0,1,407.35,332.00)">0</text>
<text transform="matrix(1.136,0,0,1,476.55,332.00)">7</text>
<text transform="matrix(1.136,0,0,1,486.41,332.00)">6</text>
<text transform="matrix(1.136,0,0,1,335.30,356.00)">6</text>
<text transform="matrix(1.136,0,0,1,386.59,356.00)">1</text>
<text transform="matrix(1.136,0,0,1,396.45,356.00)">3</text>
<text transform="matrix(1.136,0,0,1,444.95,356.00)">8</text>
<text transform="matrix(1.136,0,0,1,454.81,356.00)">1</text>
<text transform="matrix(1.136,0,0,1,340.05,406.00)">7</text>
<text transform="matrix(1.136,0,0,1,405.89,406.00)">1</text>
<text transform="matrix(1.136,0,0,1,415.75,406.00)">7</text>
<text transform="matrix(1.136,0,0,1,474.05,406.00)">7</text>
<text transform="matrix(1.136,0,0,1,483.91,406.00)">6</text>
<text transform="matrix(1.136,0,0,1,333.40,430.00)">5</text>
<text transform="matrix(1.136,0,0,1,384.59,430.00)">1</text>
<text transform="matrix(1.136,0,0,1,394.45,430.00)">4</text>
<text transform="matrix(1.136,0,0,1,444.75,430.00)">8</text>
<text transform="matrix(1.136,0,0,1,454.61,430.00)">1</text>
<text transform="matrix(1.136,0,0,1,330.90,480.00)">4</text>
<text transform="matrix(1.136,0,0,1,388.09,480.00)">1</text>
<text transform="matrix(1.136,0,0,1,397.95,480.00)">7</text>
<text transform="matrix(1.136,0,0,1,456.75,480.00)">7</text>
<text transform="matrix(1.136,0,0,1,466.61,480.00)">9</text>
<text transform="matrix(1.136,0,0,1,323.65,504.00)">2</text>
<text transform="matrix(1.136,0,0,1,396.14,504.00)">2</text>
<text transform="matrix(1.136,0,0,1,406.00,504.00)">4</text>
<text transform="matrix(1.136,0,0,1,487.35,504.00)">7</text>
<text transform="matrix(1.136,0,0,1,497.21,504.00)">4</text>
<text transform="matrix(1.136,0,0,1,329.15,529.00)">4</text>
<text transform="matrix(1.136,0,0,1,372.54,529.00)">1</text>
<text transform="matrix(1.136,0,0,1,382.40,529.00)">3</text>
<text transform="matrix(1.136,0,0,1,429.15,529.00)">8</text>
<text transform="matrix(1.136,0,0,1,439.01,529.00)">4</text>
<text transform="matrix(1.136,0,0,1,346.05,554.00)">9</text>
<text transform="matrix(1.136,0,0,1,403.24,554.00)">1</text>
<text transform="matrix(1.136,0,0,1,413.10,554.00)">2</text>
<text transform="matrix(1.136,0,0,1,456.75,554.00)">7</text>
<text transform="matrix(1.136,0,0,1,466.61,554.00)">9</text>
<text transform="matrix(1.136,0,0,1,338.95,578.00)">7</text>
<text transform="matrix(1.136,0,0,1,395.54,578.00)">1</text>
<text transform="matrix(1.136,0,0,1,405.40,578.00)">4</text>
<text transform="matrix(1.136,0,0,1,455.55,578.00)">7</text>
<text transform="matrix(1.136,0,0,1,465.41,578.00)">9</text>
</g>
<rect x="-10" y="590" width="198.5" height="20" rx="5" fill="#c4c4c4"/>
</svg></body></html>
